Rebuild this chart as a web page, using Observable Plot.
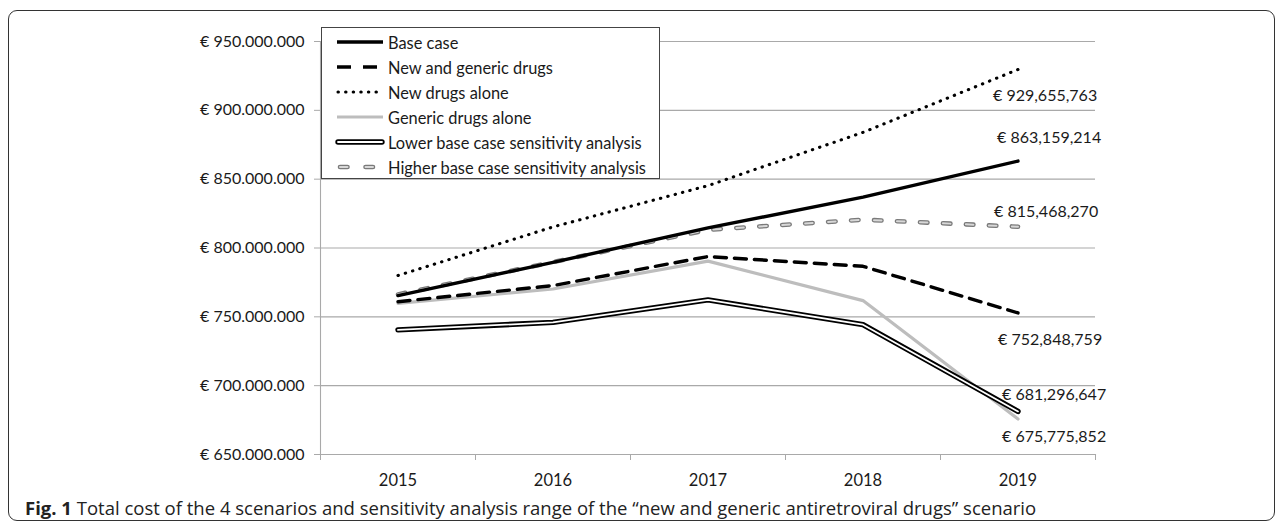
<!DOCTYPE html>
<html>
<head>
<meta charset="utf-8">
<script src="https://cdn.jsdelivr.net/npm/d3@7"></script>
<script src="https://cdn.jsdelivr.net/npm/@observablehq/plot@0.6"></script>
<style>
  html, body { margin: 0; padding: 0; background: #fff; }
  #wrap { position: relative; width: 1281px; height: 527px; overflow: hidden; font-family: Lato, sans-serif; }
  #frame { position: absolute; left: 8px; top: 10px; width: 1267px; height: 511px; border: 1.4px solid #333; border-radius: 9px; box-sizing: border-box; }
  #chart { position: absolute; left: 0; top: 0; }
  #legend { position: absolute; left: 321px; top: 27px; width: 339px; height: 152px; box-sizing: border-box; border: 1.4px solid #444; background: #fff; }
  .lrow { position: absolute; left: 0; height: 24px; display: flex; align-items: center; }
  .lrow svg { margin-left: 13px; }
  .lrow span { margin-left: 3px; font-family: Lato, sans-serif; font-size: 16.4px; color: #1a1a1a; white-space: nowrap; }
  #caption { position: absolute; left: 25px; top: 495px; font-family: "Open Sans", sans-serif; font-size: 18.5px; line-height: 25px; color: #222; white-space: nowrap; }
  #caption b { font-weight: 700; }
</style>
</head>
<body>
<div id="wrap">
  <div id="frame"></div>
  <div id="chart"></div>
  <div id="legend"></div>
  <div id="caption"><b>Fig. 1</b> Total cost of the 4 scenarios and sensitivity analysis range of the “new and generic antiretroviral drugs” scenario</div>
</div>
<script>
// ---- data ----
const years = [2015, 2016, 2017, 2018, 2019];
const seriesNames = [
  "Base case",
  "New and generic drugs",
  "New drugs alone",
  "Generic drugs alone",
  "Lower base case sensitivity analysis",
  "Higher base case sensitivity analysis"
];
const baseCase      = [765400000, 789600000, 814600000, 837000000, 863159214];
const newAndGeneric = [761000000, 772700000, 793800000, 786700000, 752848759];
const newAlone      = [780000000, 815300000, 845300000, 884000000, 929655763];
const genericAlone  = [759800000, 770200000, 790500000, 761800000, 675775852];
const lowerSens     = [740500000, 746000000, 762300000, 744300000, 681296647];
const higherSens    = [766300000, 789800000, 813200000, 820600000, 815468270];
const yTicks = [650000000, 700000000, 750000000, 800000000, 850000000, 900000000, 950000000];

// ---- styles (not data) ----
const labelOffsets = { // dx, dy of end labels relative to 2019 point
  "Base case": [-21, -23],
  "New and generic drugs": [-20, 27],
  "New drugs alone": [-25, 26],
  "Generic drugs alone": [-16, 18],
  "Lower base case sensitivity analysis": [-16, -17],
  "Higher base case sensitivity analysis": [-24, -15]
};

const valuesBySeries = [baseCase, newAndGeneric, newAlone, genericAlone, lowerSens, higherSens];
const rows = {};
seriesNames.forEach((name, i) => {
  rows[name] = years.map((yr, j) => ({ series: name, year: yr, value: valuesBySeries[i][j] }));
});

const euroDots = d3.formatLocale({ decimal: ",", thousands: ".", grouping: [3], currency: ["€ ", ""] }).format("$,.0f");
const euroComma = v => "€ " + d3.format(",")(v);
const boundaries = years.map(y => y - 0.5).concat([years[years.length - 1] + 0.5]);
const gridColor = "#a9a9a9";

function lineMarks(name) {
  const d = rows[name];
  const o = { x: "year", y: "value", curve: "linear", strokeLinejoin: "round" };
  switch (name) {
    case "Base case":
      return [Plot.line(d, { ...o, stroke: "#000", strokeWidth: 3.4 })];
    case "New and generic drugs":
      return [Plot.line(d, { ...o, stroke: "#000", strokeWidth: 3.4, strokeDasharray: "12,8" })];
    case "New drugs alone":
      return [Plot.line(d, { ...o, stroke: "#000", strokeWidth: 3.1, strokeLinecap: "round", strokeDasharray: "0.4,7.2" })];
    case "Generic drugs alone":
      return [Plot.line(d, { ...o, stroke: "#bdbdbd", strokeWidth: 3.2 })];
    case "Lower base case sensitivity analysis":
      return [
        Plot.line(d, { ...o, stroke: "#000", strokeWidth: 5.4 }),
        Plot.line(d, { ...o, stroke: "#fff", strokeWidth: 1.8 })
      ];
    case "Higher base case sensitivity analysis":
      return [
        Plot.line(d, { ...o, stroke: "#7a7a7a", strokeWidth: 4.6, strokeLinecap: "round", strokeDasharray: "7.5,15.5" }),
        Plot.line(d, { ...o, stroke: "#d8d8d8", strokeWidth: 2, strokeLinecap: "round", strokeDasharray: "7.5,15.5" })
      ];
  }
}

const drawOrder = [
  "Higher base case sensitivity analysis",
  "Generic drugs alone",
  "Lower base case sensitivity analysis",
  "New and generic drugs",
  "New drugs alone",
  "Base case"
];

const endLabels = seriesNames.map(name => {
  const last = rows[name][rows[name].length - 1];
  const [dx, dy] = labelOffsets[name];
  return Plot.text([last], {
    x: "year", y: "value", text: d => euroComma(d.value),
    textAnchor: "start", dx, dy, fontSize: 16, fill: "#1a1a1a", fontFamily: "Lato"
  });
});

const chart = Plot.plot({
  width: 1281,
  height: 480,
  marginLeft: 320,
  marginRight: 186,
  marginTop: 41,
  marginBottom: 26,
  x: { domain: [boundaries[0], boundaries[boundaries.length - 1]] },
  y: { domain: [yTicks[0], yTicks[yTicks.length - 1]] },
  style: { fontFamily: "Lato, sans-serif", fontSize: "16px", color: "#1a1a1a", background: "transparent", overflow: "visible" },
  marks: [
    Plot.gridY(yTicks, { stroke: gridColor, strokeOpacity: 1, strokeWidth: 1.1 }),
    Plot.frame({ anchor: "left", stroke: gridColor, strokeWidth: 1.1 }),
    Plot.frame({ anchor: "bottom", stroke: gridColor, strokeWidth: 1.1 }),
    Plot.axisY(yTicks, { tickSize: 6, tickPadding: 10, tickFormat: euroDots, stroke: gridColor, fill: "#1a1a1a", fontSize: 16, label: null }),
    Plot.axisX(boundaries, { tickSize: 6, tickFormat: () => "", stroke: gridColor, label: null }),
    Plot.axisX(years, { tickSize: 0, tickPadding: 20, tickFormat: d => String(d), fill: "#1a1a1a", fontSize: 16.5, label: null }),
    ...drawOrder.flatMap(lineMarks),
    ...endLabels
  ]
});
document.getElementById("chart").appendChild(chart);

// ---- legend ----
const legend = document.getElementById("legend");
const sampleSvg = {
  "Base case": `<line x1="2" y1="6" x2="48" y2="6" stroke="#000" stroke-width="3.4"/>`,
  "New and generic drugs": `<line x1="2" y1="6" x2="48" y2="6" stroke="#000" stroke-width="3.4" stroke-dasharray="14,12"/>`,
  "New drugs alone": `<line x1="3" y1="6" x2="48" y2="6" stroke="#000" stroke-width="3.1" stroke-linecap="round" stroke-dasharray="0.4,7.2"/>`,
  "Generic drugs alone": `<line x1="2" y1="6" x2="48" y2="6" stroke="#bdbdbd" stroke-width="3.2"/>`,
  "Lower base case sensitivity analysis": `<line x1="3" y1="6" x2="47" y2="6" stroke="#000" stroke-width="5.4" stroke-linecap="round"/><line x1="3" y1="6" x2="47" y2="6" stroke="#fff" stroke-width="1.8" stroke-linecap="round"/>`,
  "Higher base case sensitivity analysis": `<line x1="5" y1="6" x2="48" y2="6" stroke="#7a7a7a" stroke-width="4.6" stroke-linecap="round" stroke-dasharray="7.5,18"/><line x1="5" y1="6" x2="48" y2="6" stroke="#d8d8d8" stroke-width="2" stroke-linecap="round" stroke-dasharray="7.5,18"/>`
};
seriesNames.forEach((name, i) => {
  const row = document.createElement("div");
  row.className = "lrow";
  row.style.top = (2 + i * 25) + "px";
  row.innerHTML = `<svg width="50" height="12">${sampleSvg[name]}</svg><span>${name}</span>`;
  legend.appendChild(row);
});
</script>
</body>
</html>
